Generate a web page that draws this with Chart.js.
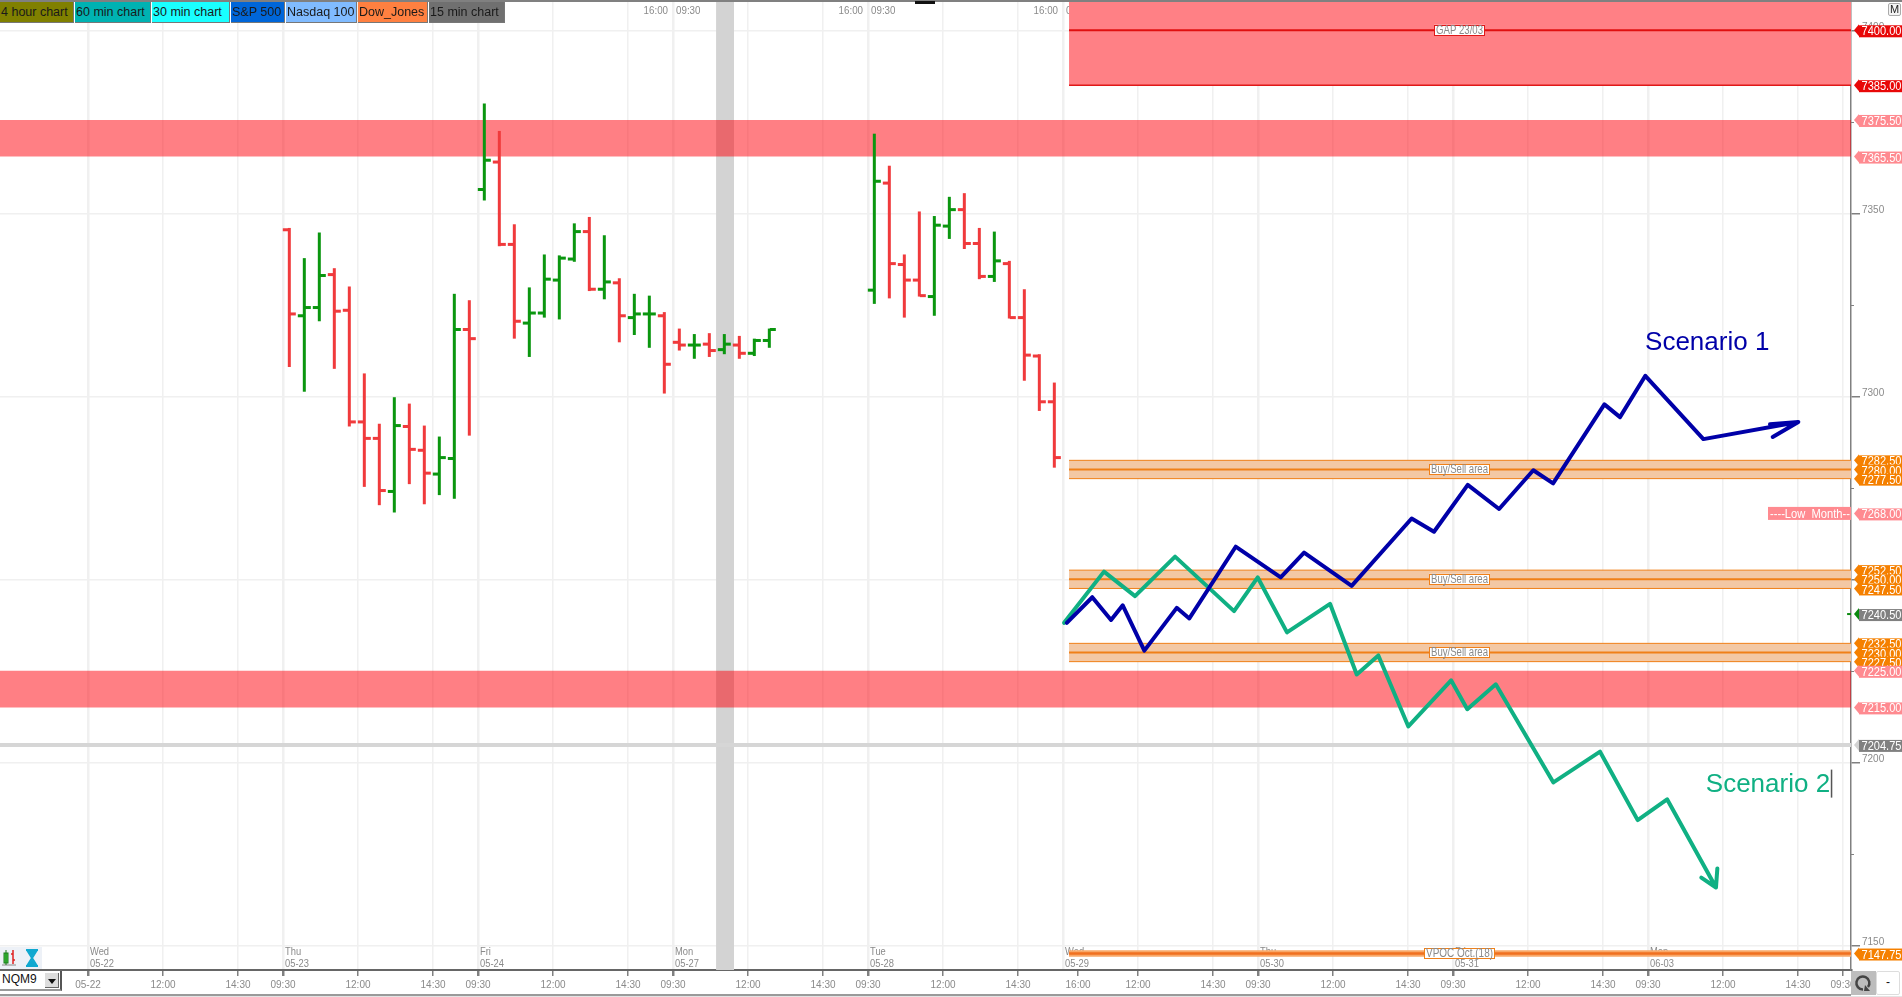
<!DOCTYPE html>
<html>
<head>
<meta charset="utf-8">
<title>NQM9</title>
<style>
  html, body { margin: 0; padding: 0; background: #fff; overflow: hidden; }
  body { width: 1902px; height: 997px; position: relative; font-family: 'Liberation Sans', sans-serif; }
  canvas { position: absolute; left: 0; top: 0; }
  .btn { position: absolute; top: 2px; height: 21px; line-height: 21px; font-size: 12.5px; color: #1a1a1a; white-space: nowrap;
         box-sizing: border-box; padding-left: 1px; overflow: hidden; border-bottom: 1px solid #777; border-right: 1px solid #777; }
  .abs { position: absolute; box-sizing: border-box; }
</style>
</head>
<body>
<canvas id="chart" width="1902" height="997"></canvas>
<div id="buttons"></div>
<div class="abs" style="left:0;top:0;width:1902px;height:2px;background:#808080"></div>
<div class="abs" style="left:915px;top:1px;width:20px;height:3px;background:#111"></div>
<div class="abs" style="left:1888px;top:3px;width:13px;height:13px;border:1px solid #aaa;border-radius:2px;background:#f4f4f4;font-size:11px;line-height:11px;text-align:center;color:#222">M</div>
<!-- bottom left tools -->
<div class="abs" style="left:0;top:947px;width:42px;height:22px;background:#edf1f7">
  <svg width="42" height="22">
    <path d="M2 18H16" stroke="#888" fill="none"/>
    <rect x="4" y="6" width="4" height="10" fill="#3fcf3f" stroke="#1a7a1a"/>
    <path d="M6 3V18" stroke="#1a7a1a"/>
    <path d="M13 3V17M11 7H13M13 13H15" stroke="#e02020" stroke-width="1.5" fill="none"/>
    <path d="M26 3H38M26 19H38M27 3L37 19M37 3L27 19" stroke="#10a8d0" stroke-width="2" fill="none"/>
    <path d="M28 4H36L32 10ZM28 18H36L32 12Z" fill="#10a8d0"/>
  </svg>
</div>
<div class="abs" style="left:0;top:971px;width:62px;height:20px;border-right:2px solid #555;border-bottom:2px solid #999;background:#fff;font-size:12px;line-height:17px;padding-left:2px;color:#111">NQM9
  <div class="abs" style="left:45px;top:2px;width:14px;height:15px;background:#ddd;border-right:1px solid #666;border-bottom:1px solid #666">
    <svg width="14" height="14"><path d="M3 6H11L7 11Z" fill="#111"/></svg>
  </div>
</div>
<!-- bottom right buttons -->
<div class="abs" style="left:1851px;top:971px;width:25px;height:24px;background:#bdbdbd">
  <svg width="25" height="24"><path d="M17 16A6.5 6.5 0 1 0 12 18.5" stroke="#444" stroke-width="2.5" fill="none"/><path d="M14 14L19 20H13Z" fill="#444"/></svg>
</div>
<div class="abs" style="left:1876px;top:971px;width:24px;height:24px;background:#fff;border:1px solid #ddd;border-radius:2px;font-size:12px;line-height:20px;text-align:center;color:#111">-</div>
<div class="abs" style="left:0;top:994px;width:1851px;height:2px;background:#9a9a9a"></div>
<div class="abs" style="left:0;top:996px;width:1902px;height:1px;background:#e4e4e4"></div>

<script src="https://cdn.jsdelivr.net/npm/chart.js@4/dist/chart.umd.js"></script>
<script>
// bar slots, one unit = one 30 min bar, slot 0 = 05-22 09:30
const barSlots = [
  13, 14, 15, 16, 17, 18, 19, 20, 21, 22, 23, 24, 25,
  26, 27, 28, 29, 30, 31, 32, 33, 34, 35, 36, 37, 38,
  39, 40, 41, 42, 43, 44, 45,
  52, 53, 54, 55, 56, 57, 58, 59, 60, 61, 62, 63, 64,
];
const opens = [
  7345.5, 7322, 7324.25, 7333.25, 7323.5, 7293, 7288.5, 7274, 7291.75, 7285.25, 7278.75, 7283, 7318.25,
  7356.5, 7364, 7341.5, 7320, 7322.75, 7331.75, 7337.5, 7345, 7329.25, 7331, 7321.5, 7322.5, 7322,
  7314.75, 7314, 7314.25, 7312.75, 7314, 7311.75, 7315.25,
  7329, 7358.25, 7336, 7331.75, 7327.25, 7346.5, 7351, 7341.75, 7332.75, 7336.25, 7321.5, 7311, 7298.5,
];
const highs = [
  7346, 7337.75, 7344.75, 7335, 7330, 7306.25, 7292.5, 7299.75, 7298, 7292, 7289, 7328, 7326.25,
  7380, 7372.5, 7347, 7329.75, 7338.75, 7338.5, 7347.25, 7349, 7344, 7332.25, 7328, 7327.5, 7323,
  7318.5, 7317, 7317.25, 7317, 7316.5, 7315.75, 7318.5,
  7371.75, 7363, 7338.75, 7350.5, 7349.25, 7354.5, 7355.5, 7346, 7345, 7337, 7329.25, 7311.5, 7303.75,
];
const lows = [
  7308, 7301.25, 7320.5, 7307.5, 7291.75, 7275.25, 7270.25, 7268.25, 7276, 7270.5, 7273, 7272, 7289.25,
  7353.5, 7341, 7315.75, 7310.75, 7321.5, 7321, 7336.75, 7328.75, 7326.5, 7314.75, 7316.75, 7313.25, 7300.75,
  7312.5, 7310.25, 7310.75, 7311.5, 7310.25, 7311, 7313.25,
  7325.25, 7326.75, 7321.5, 7327.25, 7322, 7343, 7340.25, 7332, 7331.25, 7321.25, 7304.25, 7296, 7280.5,
];
const closes = [
  7322.5, 7324.25, 7333, 7323.25, 7293, 7288.5, 7274.25, 7292, 7285.5, 7279, 7283.25, 7318.25, 7315.75,
  7364.5, 7341.5, 7320.5, 7322.75, 7332, 7337.75, 7345, 7329.25, 7331.25, 7322, 7322.5, 7322.5, 7308.75,
  7314, 7314, 7312.5, 7314.25, 7311.75, 7315.25, 7318.25,
  7358.75, 7336.25, 7331.75, 7327.5, 7346.75, 7351, 7341.75, 7332.75, 7337, 7321.5, 7311.25, 7298.5, 7283.25,
];

// hand drawn scenarios: slot and price of each corner, the last ones are the arrow head
const scenario1Slots = [65.25, 66.95, 68.2, 68.98, 70.42, 72.58, 73.42, 76.51, 79.51, 81.07, 84.24, 88.24, 89.73, 91.98, 94.07, 96.35, 97.67, 101.09, 102.13, 103.82, 107.69, 114.02, 112.13, 114.02, 112.31];
const scenario1Prices = [7238.1, 7245.1, 7238.9, 7242.9, 7230.5, 7242.2, 7239.3, 7258.9, 7250.5, 7257.3, 7248.2, 7266.6, 7263, 7275.8, 7269.2, 7279.8, 7276.2, 7297.8, 7294.3, 7305.6, 7288.3, 7293, 7292.35, 7293, 7288.9];
const scenario2Slots = [65.07, 67.73, 69.8, 72.47, 76.4, 77.98, 79.93, 82.8, 84.58, 86.02, 88.02, 90.87, 91.95, 93.85, 97.69, 100.8, 103.31, 105.27, 108.53, 108.62, 108.53, 107.55];
const scenario2Prices = [7238.1, 7252.1, 7245.4, 7256.2, 7241.3, 7250.5, 7235.5, 7243.3, 7224, 7229.2, 7209.8, 7222.4, 7214.5, 7221.3, 7194.5, 7202.9, 7184.2, 7189.9, 7165.8, 7171, 7165.8, 7168.5];

// levels
const bandLows = [7365.5, 7215];
const bandHighs = [7375.5, 7225];
const areaLows = [7277.5, 7247.5, 7227.5];
const areaMids = [7280, 7250, 7230];
const areaHighs = [7282.5, 7252.5, 7232.5];
const gapLow = 7385;
const gapMid = 7400;
const vpocPrice = 7147.75;
const greyLevel = 7204.75;
const lastPrice = 7240.5;

// tags on the price axis, top to bottom
const tagPrices = [7400, 7385, 7375.5, 7365.5, 7282.5, 7280, 7277.5, 7268, 7252.5, 7250, 7247.5, 7240.5, 7232.5, 7230, 7227.5, 7225, 7215, 7204.75, 7147.75];
const tagKinds = ['red', 'red', 'pink', 'pink', 'orange', 'orange', 'orange', 'pink', 'orange', 'orange', 'orange', 'last', 'orange', 'orange', 'orange', 'pink', 'pink', 'grey', 'orange'];

// axis ticks
const yTicks = [7150, 7200, 7250, 7300, 7350, 7400];
const yMinorTicks = [7175, 7225, 7275, 7325, 7375];
const xTickSlots = [0, 5, 10, 13, 18, 23, 26, 31, 36, 39, 44, 49, 52, 57, 62, 65, 66, 70, 75, 78, 83, 88, 91, 96, 101, 104, 109, 114, 117];
const xTickLabels = ['05-22', '12:00', '14:30', '09:30', '12:00', '14:30', '09:30', '12:00', '14:30', '09:30', '12:00', '14:30', '09:30', '12:00', '14:30', '', '16:00', '12:00', '14:30', '09:30', '12:00', '14:30', '09:30', '12:00', '14:30', '09:30', '12:00', '14:30', '09:30'];
const dayStarts = [0, 13, 26, 39, 52, 65, 78, 91, 104];
const dayNames = ['Wed', 'Thu', 'Fri', 'Mon', 'Tue', 'Wed', 'Thu', 'Fri', 'Mon'];
const dayDates = ['05-22', '05-23', '05-24', '05-27', '05-28', '05-29', '05-30', '05-31', '06-03'];
const sessionBreaks = [39, 52, 65];

// buttons at the top left
const buttonNames = ['4 hour chart', '60 min chart', '30 min chart', 'S&P 500', 'Nasdaq 100', 'Dow_Jones', '15 min chart'];
const buttonColors = ['#808000', '#00b2b2', '#19ffff', '#0066d9', '#80bbff', '#ff8040', '#707070'];
const buttonLefts = [0, 75, 152, 231, 286, 358, 429];
const buttonWidths = [74, 76, 78, 54, 71, 70, 76];

const xMin = -5.867;
const xMax = 117.53;
const yMin = 7143.25;
const yMax = 7407.73;
const barShift = 0.42;     // bars sit a bit right of their time line
const areaStart = 65.4;    // where the drawn levels begin

const red = '#f03a3c';
const green = '#0a960f';
const orange = '#f08018';
const tagColors = { red: '#e80808', pink: '#ff8a90', orange: '#f58000', last: '#808080', grey: '#808080' };
const tipColors = { red: '#e80808', pink: '#ff8a90', orange: '#f58000', last: '#0a8a0f', grey: '#d3d3d3' };

buttonNames.forEach((name, i) => {
  const el = document.createElement('div');
  el.className = 'btn';
  el.textContent = name;
  el.style.left = buttonLefts[i] + 'px';
  el.style.width = buttonWidths[i] + 'px';
  el.style.background = buttonColors[i];
  document.getElementById('buttons').appendChild(el);
});

function hLine(price, from, to, color, width, order) {
  return {
    type: 'line',
    data: [{ x: from, y: price }, { x: to, y: price }],
    borderColor: color,
    borderWidth: width,
    pointRadius: 0,
    fill: false,
    order: order,
  };
}

function zone(low, high, from, to, color, order) {
  return {
    type: 'line',
    data: [{ x: from, y: high }, { x: to, y: high }],
    borderWidth: 0,
    borderColor: 'transparent',
    backgroundColor: color,
    pointRadius: 0,
    fill: { value: low },
    order: order,
  };
}

function scenario(slots, prices, color) {
  return {
    type: 'line',
    data: slots.map((s, i) => ({ x: s, y: prices[i] })),
    borderColor: color,
    borderWidth: 4,
    borderJoinStyle: 'round',
    borderCapStyle: 'round',
    pointRadius: 0,
    fill: false,
    tension: 0,
    order: 1,
  };
}

// the small text on the original is a narrow face, so squeeze it a little
function narrowText(ctx, text, x, y) {
  ctx.fillText(text, x, y, ctx.measureText(text).width * 0.85);
}

const datasets = [];
// session break shading
datasets.push(zone(yMin, yMax, 41.87, 43.07, '#d3d3d3', 20));
bandLows.forEach((low, i) => {
  datasets.push(zone(low, bandHighs[i], xMin, xMax, 'rgba(255,0,10,0.5)', 15));
});
datasets.push(hLine(greyLevel, xMin, xMax, '#d6d6d6', 4, 14));
datasets.push(zone(gapLow, yMax, areaStart, xMax, '#ff8085', 15));
datasets.push(hLine(gapLow, areaStart, xMax, '#e01818', 1.5, 12));
datasets.push(hLine(gapMid, areaStart, xMax, '#e01010', 2, 12));
areaLows.forEach((low, i) => {
  datasets.push(zone(low, areaHighs[i], areaStart, xMax, '#f3c8a4', 15));
  datasets.push(hLine(low, areaStart, xMax, orange, 1, 12));
  datasets.push(hLine(areaHighs[i], areaStart, xMax, orange, 1, 12));
  datasets.push(hLine(areaMids[i], areaStart, xMax, orange, 2, 12));
});
datasets.push(hLine(vpocPrice, areaStart, xMax, '#f8a868', 6.5, 13));
datasets.push(hLine(vpocPrice, areaStart, xMax, '#f07020', 2.5, 12));
datasets.push(hLine(lastPrice, 117.27, xMax, '#0a8a0f', 2, 12));
datasets.push({
  type: 'bar',
  data: barSlots.map((s, i) => ({ x: s + barShift, y: [lows[i], highs[i]] })),
  backgroundColor: barSlots.map((s, i) => (closes[i] >= opens[i] ? green : red)),
  barThickness: 3,
  inflateAmount: 0,
  borderWidth: 0,
  order: 5,
});
datasets.push(scenario(scenario1Slots, scenario1Prices, '#0000a8'));
datasets.push(scenario(scenario2Slots, scenario2Prices, '#10b083'));

const backText = {
  id: 'backText',
  beforeDatasetsDraw(chart) {
    const { ctx, scales: { x }, chartArea } = chart;
    ctx.save();
    ctx.fillStyle = '#8a8a8a';
    ctx.font = "11.5px 'Liberation Sans'";
    ctx.textBaseline = 'middle';
    sessionBreaks.forEach(slot => {
      const px = x.getPixelForValue(slot);
      ctx.textAlign = 'right';
      narrowText(ctx, '16:00', px - 5, 11);
      ctx.textAlign = 'left';
      narrowText(ctx, '09:30', px + 3, 11);
    });
    ctx.textAlign = 'left';
    ctx.font = "11px 'Liberation Sans'";
    dayStarts.forEach((slot, i) => {
      const px = x.getPixelForValue(slot) + 2;
      narrowText(ctx, dayNames[i], px, chartArea.bottom - 18);
      narrowText(ctx, dayDates[i], px, chartArea.bottom - 6);
    });
    ctx.restore();
  },
};

function drawBox(ctx, x, price, scaleY, text, width, border) {
  const y = scaleY.getPixelForValue(price);
  ctx.fillStyle = '#fff';
  ctx.fillRect(x, y - 5.5, width, 11);
  ctx.strokeStyle = border;
  ctx.lineWidth = 1;
  ctx.strokeRect(x + 0.5, Math.round(y - 5.5) + 0.5, width - 1, 10);
  ctx.fillStyle = '#8a8a8a';
  ctx.font = "12px 'Liberation Sans'";
  ctx.textAlign = 'center';
  ctx.textBaseline = 'middle';
  ctx.fillText(text, x + width / 2, y + 0.5, width - 4);
}

const overlay = {
  id: 'overlay',
  afterDatasetsDraw(chart) {
    const { ctx, scales: { x, y } } = chart;
    ctx.save();
    // open and close ticks of each bar
    barSlots.forEach((slot, i) => {
      const px = x.getPixelForValue(slot + barShift);
      ctx.fillStyle = closes[i] >= opens[i] ? green : red;
      ctx.fillRect(px - 6.5, y.getPixelForValue(opens[i]) - 1.5, 6, 3);
      ctx.fillRect(px + 0.5, y.getPixelForValue(closes[i]) - 1.5, 6, 3);
    });
    // labels on the levels
    drawBox(ctx, 1434, gapMid, y, 'GAP 23/03', 51, '#e01818');
    areaMids.forEach(p => drawBox(ctx, 1429, p, y, 'Buy/Sell area', 61, orange));
    drawBox(ctx, 1424, vpocPrice, y, 'VPOC Oct.(18)', 71, orange);
    // scenario names
    ctx.textAlign = 'left';
    ctx.textBaseline = 'alphabetic';
    ctx.font = "26px 'Liberation Sans'";
    ctx.fillStyle = '#0000a8';
    ctx.fillText('Scenario 1', x.getPixelForValue(103.8), y.getPixelForValue(7312.65));
    ctx.fillStyle = '#10b083';
    ctx.fillText('Scenario 2', x.getPixelForValue(107.85), y.getPixelForValue(7192));
    // text cursor after the second name
    ctx.fillStyle = '#555';
    ctx.fillRect(x.getPixelForValue(107.85) + 125, y.getPixelForValue(7198), 1.5, 28);
    // month low label
    const lowY = y.getPixelForValue(7268);
    ctx.fillStyle = '#ff8a90';
    ctx.fillRect(1768, lowY - 6.5, 83, 13);
    ctx.fillStyle = '#fff';
    ctx.font = "13px 'Liberation Sans'";
    ctx.textBaseline = 'middle';
    ctx.fillText('----Low_Month--', 1770, lowY + 1, 80);
    ctx.restore();
  },
  afterDraw(chart) {
    const { ctx, scales: { y }, chartArea } = chart;
    ctx.save();
    // short ticks between the labelled prices
    ctx.strokeStyle = '#808080';
    ctx.lineWidth = 1;
    yMinorTicks.forEach(p => {
      const py = Math.round(y.getPixelForValue(p)) + 0.5;
      ctx.beginPath();
      ctx.moveTo(chartArea.right, py);
      ctx.lineTo(chartArea.right + 3, py);
      ctx.stroke();
    });
    // price tags, lower ones lie on top
    ctx.textAlign = 'left';
    ctx.textBaseline = 'middle';
    ctx.font = "13px 'Liberation Sans'";
    tagPrices.forEach((p, i) => {
      const py = y.getPixelForValue(p);
      const kind = tagKinds[i];
      ctx.fillStyle = tipColors[kind];
      ctx.beginPath();
      ctx.moveTo(1854, py);
      ctx.lineTo(1859, py - 6);
      ctx.lineTo(1859, py + 6);
      ctx.closePath();
      ctx.fill();
      ctx.fillStyle = tagColors[kind];
      ctx.fillRect(1859, py - 5, 43, 12);
      ctx.fillStyle = '#fff';
      ctx.fillText(p.toFixed(2), 1861.5, py + 1.5, 40);
    });
    ctx.restore();
  },
};

new Chart(document.getElementById('chart'), {
  type: 'bar',
  data: { datasets: datasets },
  options: {
    responsive: false,
    animation: false,
    devicePixelRatio: 1,
    layout: { padding: { top: 2, left: 0, right: 0, bottom: 0 } },
    plugins: { legend: { display: false }, tooltip: { enabled: false } },
    events: [],
    scales: {
      x: {
        type: 'linear',
        offset: false,
        min: xMin,
        max: xMax,
        afterBuildTicks(scale) {
          scale.ticks = xTickSlots.map(v => ({ value: v }));
        },
        afterFit(scale) {
          scale.height = 27;
          scale.paddingLeft = 0;
          scale.paddingRight = 0;
        },
        grid: {
          offset: false,
          color: ctx => (ctx.tick && ctx.tick.value === 66 ? 'transparent' : '#f0f0f0'),
          lineWidth: ctx => (ctx.tick && dayStarts.includes(ctx.tick.value) ? 2.5 : 1.5),
          tickColor: ctx => (ctx.tick && ctx.tick.value === 65 ? 'transparent' : '#808080'),
          tickLength: 6,
        },
        border: { color: '#666', width: 2 },
        ticks: {
          autoSkip: false,
          maxRotation: 0,
          minRotation: 0,
          padding: 3,
          color: '#8a8a8a',
          font: { family: "'Liberation Sans'", size: 10 },
          callback: (value, index) => xTickLabels[index],
        },
      },
      y: {
        type: 'linear',
        position: 'right',
        min: yMin,
        max: yMax,
        afterBuildTicks(scale) {
          scale.ticks = yTicks.map(v => ({ value: v }));
        },
        afterFit(scale) {
          scale.width = 51;
          scale.paddingTop = 0;
          scale.paddingBottom = 0;
        },
        grid: {
          color: '#f0f0f0',
          lineWidth: 1.5,
          tickColor: '#808080',
          tickLength: 9,
        },
        border: { color: '#808080', width: 1.5 },
        ticks: {
          padding: 2,
          labelOffset: -3,
          color: '#8a8a8a',
          font: { family: "'Liberation Sans'", size: 10 },
          callback: value => String(value),
        },
      },
    },
  },
  plugins: [backText, overlay],
});
</script>
</body>
</html>
